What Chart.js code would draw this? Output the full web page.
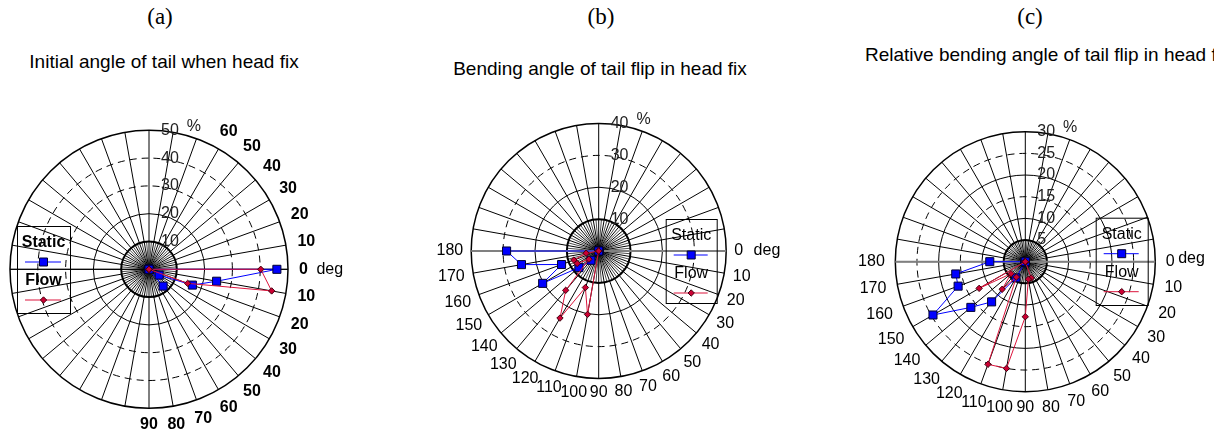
<!DOCTYPE html>
<html>
<head>
<meta charset="utf-8">
<script src="https://cdn.jsdelivr.net/npm/chart.js@4"></script>
<style>
  body { margin: 0; width: 1214px; height: 433px; overflow: hidden; background: #fff; position: relative;
         font-family: "Liberation Sans", Arial, sans-serif; }
  canvas { position: absolute; left: 0; top: 0; }
  .tag { position: absolute; font-family: "Liberation Serif", "Times New Roman", serif; font-size: 23px;
         line-height: 26px; transform: translateX(-50%); white-space: nowrap; }
  .sub { position: absolute; font-size: 19px; line-height: 22px; white-space: nowrap; }
</style>
</head>
<body>
<div class="tag" style="left:160px;top:4px">(a)</div>
<div class="tag" style="left:601px;top:4px">(b)</div>
<div class="tag" style="left:1030px;top:4px">(c)</div>
<div class="sub" style="left:164px;top:51px;transform:translateX(-50%)">Initial angle of tail when head fix</div>
<div class="sub" style="left:600px;top:58px;transform:translateX(-50%)">Bending angle of tail flip in head fix</div>
<div class="sub" style="left:865px;top:44px">Relative bending angle of tail flip in head fix</div>

<canvas id="polarA" width="1214" height="433"></canvas>
<canvas id="polarB" width="1214" height="433"></canvas>
<canvas id="polarC" width="1214" height="433"></canvas>

<script>
// (a) initial tail angle, degrees (negative = upper side), % of trials
const anglesA = [-60, -50, -40, -30, -20, -10, 0, 10, 20, 30, 40, 50, 60, 70, 80, 90];
const staticA = [0, 0, 0, 0, 0, 0, 46.0, 24.7, 16.6, 4.2, 0, 7.9, 0, 0, 0, 0];
const flowA   = [0, 0, 0, 0, 0, 0, 40.2, 44.8, 14.8, 0, 0, 0, 0, 0, 0, 0];
const ringsA  = [10, 20, 30, 40, 50];

// (b) bending angle of tail flip
const anglesB = [0, 10, 20, 30, 40, 50, 60, 70, 80, 90, 100, 110, 120, 130, 140, 150, 160, 170, 180];
const staticB = [0, 0, 0, 0, 0, 0, 0, 0, 0, 0, 0, 0, 0, 3.8, 8.1, 20.3, 12.4, 24.6, 28.9];
const flowB   = [0, 0, 0, 0, 0, 0, 0, 0, 0, 0, 20.2, 12.2, 24.3, 16.1, 4.0, 7.8, 8.3, 4.0, 0];
const ringsB  = [10, 20, 30, 40];

// (c) relative bending angle of tail flip
const anglesC = [0, 10, 20, 30, 40, 50, 60, 70, 80, 90, 100, 110, 120, 130, 140, 150, 160, 170, 180];
const staticC = [0, 0, 0, 0, 0, 0, 0, 0, 0, 0, 0, 0, 4.3, 12.1, 16.4, 24.6, 16.5, 16.3, 8.2];
const flowC   = [0, 0, 0, 0, 0, 0, 0, 4.0, 4.1, 12.7, 25.0, 25.2, 4.1, 8.3, 4.3, 12.3, 0, 0, 0];
const ringsC  = [5, 10, 15, 20, 25, 30];

const W = 1214, H = 433;
const BLUE = '#0000ff', RED = '#dc143c';

// polar (deg clockwise from east, r) -> x/y for the linear scales, loop closed
function toXY(angles, values) {
  const pts = angles.map((a, i) => {
    const t = a * Math.PI / 180;
    return { x: values[i] * Math.cos(t), y: -values[i] * Math.sin(t) };
  });
  pts.push(pts[0]);
  return pts;
}

function drawMarker(ctx, style, x, y) {
  ctx.beginPath();
  if (style === 'rect') {
    ctx.rect(x - 4, y - 4, 8, 8);
    ctx.fillStyle = BLUE; ctx.strokeStyle = '#000033';
  } else {
    ctx.moveTo(x, y - 3.2); ctx.lineTo(x + 3.2, y); ctx.lineTo(x, y + 3.2); ctx.lineTo(x - 3.2, y); ctx.closePath();
    ctx.fillStyle = '#cc0033'; ctx.strokeStyle = '#400010';
  }
  ctx.lineWidth = 1;
  ctx.fill(); ctx.stroke();
}

const polarGrid = {
  id: 'polarGrid',
  beforeDatasetsDraw(chart, args, o) {
    const ctx = chart.ctx, xs = chart.scales.x, ys = chart.scales.y;
    const cx = xs.getPixelForValue(0), cy = ys.getPixelForValue(0);
    const rad = v => xs.getPixelForValue(v) - cx;
    const R = rad(o.rings[o.rings.length - 1]), r0 = rad(o.rings[0]);
    ctx.save();
    ctx.strokeStyle = '#000';
    // spokes: every 10 deg to the rim, 5 deg inside the first ring
    for (let a = 0; a < 360; a += 5) {
      const t = a * Math.PI / 180;
      const major = a % 10 === 0;
      const len = major ? R : r0;
      ctx.lineWidth = major ? 1 : 0.7;
      ctx.beginPath();
      ctx.moveTo(cx, cy);
      ctx.lineTo(cx + len * Math.cos(t), cy + len * Math.sin(t));
      ctx.stroke();
    }
    // rings
    o.rings.forEach((r, i) => {
      const st = o.ringStyle[i];
      ctx.setLineDash(st === 'dash' ? [7, 5] : []);
      ctx.lineWidth = st === 'thick' ? 2 : (st === 'rim' ? 1.5 : 1);
      ctx.beginPath();
      ctx.arc(cx, cy, rad(r), 0, Math.PI * 2);
      ctx.stroke();
    });
    ctx.setLineDash([]);
    // horizontal axis
    ctx.strokeStyle = o.axisColor;
    ctx.lineWidth = o.axisWidth;
    ctx.beginPath();
    ctx.moveTo(cx - R, cy); ctx.lineTo(cx + R, cy);
    ctx.stroke();
    ctx.restore();
  },
  afterDatasetsDraw(chart, args, o) {
    const ctx = chart.ctx, xs = chart.scales.x, ys = chart.scales.y;
    const cx = xs.getPixelForValue(0), cy = ys.getPixelForValue(0);
    const rad = v => xs.getPixelForValue(v) - cx;
    const top = o.rings[o.rings.length - 1];
    const R = rad(top);
    ctx.save();
    ctx.textBaseline = 'middle';

    // radial tick labels along the upper vertical axis
    ctx.font = '16px "Liberation Sans", Arial, sans-serif';
    ctx.textAlign = 'left';
    ctx.fillStyle = '#222';
    o.rings.forEach(r => ctx.fillText(String(r), cx + 12, cy - rad(r)));
    ctx.fillText('%', cx + 12 + ctx.measureText(String(top)).width + 8, cy - R - 4);

    // angle labels outside the rim
    ctx.fillStyle = '#000';
    ctx.font = (o.bold ? 'bold ' : '') + '16px "Liberation Sans", Arial, sans-serif';
    ctx.textAlign = 'center';
    const h = 11.5;
    o.angleTicks.forEach(a => {
      const t = a * Math.PI / 180;
      const ux = Math.cos(t), uy = Math.sin(t);
      const txt = String(Math.abs(a));
      const w = ctx.measureText(txt).width;
      const d = R + o.gap + Math.abs(ux) * w / 2 + Math.abs(uy) * h / 2;
      const x = cx + ux * d, y = cy + uy * d;
      ctx.fillText(txt, x, y);
      if (a === 0) {
        ctx.save();
        ctx.font = '16px "Liberation Sans", Arial, sans-serif';
        ctx.textAlign = 'left';
        ctx.fillText('deg', x + w / 2 + o.degGap, y + o.degDy);
        ctx.restore();
      }
    });

    // legend box
    const L = o.legend;
    ctx.strokeStyle = '#000';
    ctx.lineWidth = 1;
    ctx.strokeRect(L.x + 0.5, L.y + 0.5, L.w, L.h);
    const mx = L.x + L.w / 2;
    const sets = chart.data.datasets.slice().sort((p, q) => q.order - p.order);
    sets.forEach((ds, i) => {
      const ty = L.y + 17 + i * 38, ly = L.y + 36 + i * 38;
      ctx.fillStyle = '#000';
      ctx.fillText(ds.label, mx, ty);
      ctx.strokeStyle = ds.borderColor;
      ctx.beginPath();
      ctx.moveTo(L.x + 8, ly); ctx.lineTo(L.x + L.w - 9, ly);
      ctx.stroke();
      drawMarker(ctx, ds.pointStyle, mx, ly);
    });
    ctx.restore();
  }
};

function makePolar(id, panel, angles, staticVals, flowVals) {
  const rMax = panel.rings[panel.rings.length - 1];
  return new Chart(document.getElementById(id), {
    type: 'scatter',
    data: {
      datasets: [
        {
          label: 'Static', data: toXY(angles, staticVals), order: 1,
          showLine: true, borderColor: BLUE, borderWidth: 1,
          pointStyle: 'rect', pointRadius: 5.7, pointBackgroundColor: BLUE,
          pointBorderColor: '#000033', pointBorderWidth: 1, clip: false
        },
        {
          label: 'Flow', data: toXY(angles, flowVals), order: 0,
          showLine: true, borderColor: RED, borderWidth: 1,
          pointStyle: 'rectRot', pointRadius: 3.2, pointBackgroundColor: '#cc0033',
          pointBorderColor: '#400010', pointBorderWidth: 1, clip: false
        }
      ]
    },
    options: {
      responsive: false,
      animation: false,
      devicePixelRatio: 1,
      layout: {
        padding: {
          left: panel.cx - panel.R, right: W - (panel.cx + panel.R),
          top: panel.cy - panel.R, bottom: H - (panel.cy + panel.R)
        }
      },
      scales: {
        x: { type: 'linear', min: -rMax, max: rMax, display: false },
        y: { type: 'linear', min: -rMax, max: rMax, display: false }
      },
      plugins: {
        legend: { display: false },
        tooltip: { enabled: false },
        polarGrid: panel
      }
    },
    plugins: [polarGrid]
  });
}

makePolar('polarA', {
  cx: 149, cy: 269.3, R: 139, rings: ringsA,
  ringStyle: ['thick', 'solid', 'dash', 'dash', 'rim'],
  angleTicks: anglesA, bold: true, gap: 11, degGap: 8.5, degDy: 0,
  axisColor: '#000', axisWidth: 1,
  legend: { x: 17, y: 226, w: 53, h: 87 }
}, anglesA, staticA, flowA);

makePolar('polarB', {
  cx: 598.7, cy: 251, R: 127.5, rings: ringsB,
  ringStyle: ['thick', 'solid', 'dash', 'rim'],
  angleTicks: anglesB, bold: false, gap: 8, degGap: 10.5, degDy: 0,
  axisColor: '#808080', axisWidth: 2,
  legend: { x: 665.7, y: 219, w: 51, h: 84 }
}, anglesB, staticB, flowB);

makePolar('polarC', {
  cx: 1025.3, cy: 261.7, R: 130, rings: ringsC,
  ringStyle: ['thick', 'solid', 'dash', 'solid', 'dash', 'rim'],
  angleTicks: anglesC, bold: false, gap: 10.5, degGap: 3.5, degDy: -3,
  axisColor: '#808080', axisWidth: 2,
  legend: { x: 1095.7, y: 217.7, w: 52, h: 87.3 }
}, anglesC, staticC, flowC);
</script>
</body>
</html>
